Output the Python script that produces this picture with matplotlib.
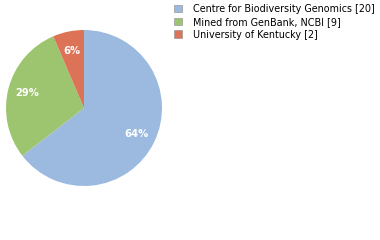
import matplotlib.pyplot as plt
from matplotlib.patches import Patch

# 数据
labels = ['Centre for Biodiversity Genomics', 'Mined from GenBank, NCBI', 'University of Kentucky']
counts = [20, 9, 2]
colors = ['#9cbae0', '#9dc56f', '#dc7357']

W, H = 380, 240
fig = plt.figure(figsize=(W / 100, H / 100), dpi=100)

# 饼图位置（像素换算）
cx, cy, r = 84, 108, 78
ax = fig.add_axes([(cx - r) / W, (H - cy - r) / H, 2 * r / W, 2 * r / H])
wedges, texts, autotexts = ax.pie(
    counts, colors=colors, startangle=90, counterclock=False,
    autopct=lambda p: f'{int(p)}%', pctdistance=0.75,
    textprops=dict(color='white', fontsize=7.2, fontweight='bold'),
    wedgeprops=dict(linewidth=0))
ax.set_xlim(-1, 1)
ax.set_ylim(-1, 1)
ax.set_aspect('equal')

handles = [Patch(facecolor=c, edgecolor='#999999', linewidth=0.5) for c in colors]
leg_labels = [f'{l} [{n}]' for l, n in zip(labels, counts)]
fig.legend(handles, leg_labels, loc='upper left', bbox_to_anchor=(170 / W, 1 - 0 / H),
           frameon=False, fontsize=6.9, handlelength=0.85, handleheight=0.85,
           handletextpad=1.2, labelspacing=0.3, borderaxespad=0)

fig.savefig('out.png', dpi=100)
